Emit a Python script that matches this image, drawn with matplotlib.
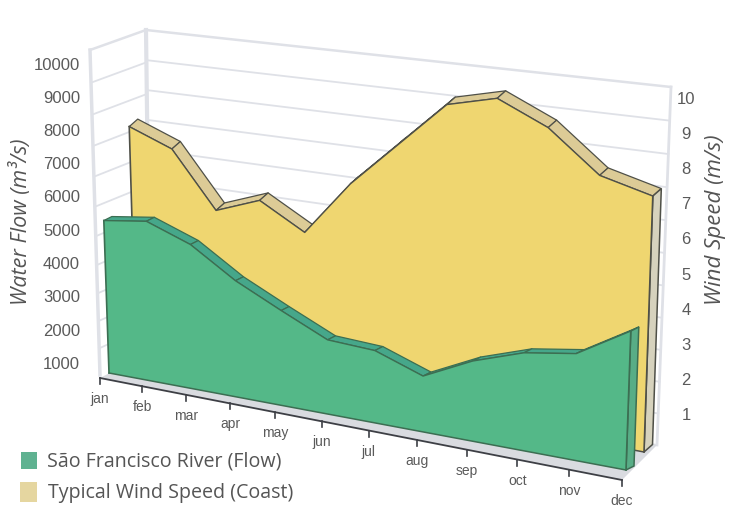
import numpy as np
import matplotlib
matplotlib.use("Agg")
import matplotlib.pyplot as plt
import matplotlib.transforms as mtransforms
from matplotlib.patches import Rectangle

months = ['jan','feb','mar','apr','may','jun','jul','aug','sep','oct','nov','dec']
flow = [4810,4980,4470,3580,2900,2250,2170,1660,2350,2830,3050,3920]
wind = [7.27,6.75,5.05,5.55,4.78,6.42,7.73,9.04,9.37,8.72,7.58,7.2]
flow_ticks = [1000,2000,3000,4000,5000,6000,7000,8000,9000,10000]
wind_ticks = [1,2,3,4,5,6,7,8,9,10]
idx = np.arange(12)


class Plane(mtransforms.Transform):
    # perspective plane, (month, value) -> pixel, fixed by its four corners
    input_dims = 2
    output_dims = 2
    is_separable = False

    def __init__(self, vmax, c00, c10, c01, c11):
        super().__init__()
        src = [(0,0),(11,0),(0,vmax),(11,vmax)]
        dst = [c00,c10,c01,c11]
        A = []; b = []
        for (u,v),(x,y) in zip(src,dst):
            A.append([u,v,1,0,0,0,-u*x,-v*x]); b.append(x)
            A.append([0,0,0,u,v,1,-u*y,-v*y]); b.append(y)
        h = np.linalg.solve(np.array(A,float),np.array(b,float))
        self.H = np.append(h,1).reshape(3,3)

    def transform_non_affine(self, values):
        p = np.c_[values,np.ones(len(values))] @ self.H.T
        return p[:,:2]/p[:,2:]


def shifted(vmax, corners, dx, dy):
    return Plane(vmax, *[(x+dx,y+dy) for x,y in corners])


flow_c = [(109,373),(626,470),(98,49),(638.6,105)]
wind_c = [(136,356),(644,452),(126.6,37),(656.4,92)]
back_wall = Plane(11,(150,352),(657,445),(146,30),(671,87))
left_wall = Plane(11,(100,375),(150,352),(90,50),(146,30))
axis_line = Plane(1,(100,378),(622,480),(100,278),(622,367))

flow_front = Plane(10000,*flow_c)
flow_back = shifted(10000,flow_c,8,-4)
wind_front = Plane(10,*wind_c)
wind_back = shifted(10,wind_c,8.5,-7.5)

fig = plt.figure(figsize=(7.32,5.29),dpi=100)
ax = fig.add_axes([0,0,1,1])
ax.set_xlim(0,732); ax.set_ylim(529,0)
ax.axis('off')
ax.autoscale(False)
data = ax.transData

grid_col = '#dfe1e7'
# walls and grid
for lev in range(0,12):
    w = 1.8 if lev==11 else 1.3
    ax.plot([0,11],[lev,lev],transform=back_wall+data,color=grid_col,lw=w,zorder=1)
    if lev>0:
        ax.plot([0,11],[lev,lev],transform=left_wall+data,color=grid_col,lw=w,zorder=1)
ax.plot([0,0],[0,11],transform=back_wall+data,color=grid_col,lw=3,zorder=1)
ax.plot([11,11],[0,11],transform=back_wall+data,color=grid_col,lw=2,zorder=1)
ax.plot([0,0],[0,11],transform=left_wall+data,color=grid_col,lw=2.5,zorder=1)

# floor
fl = np.vstack([axis_line.transform(np.array([[0,0],[11,0]])),
                back_wall.transform(np.array([[11,0],[0,0]]))])
ax.fill(fl[:,0],fl[:,1],color='#d9dbe0',lw=0,zorder=1.5)


def slab(front, back, vals, face, side, edge, right_side, z):
    vals = np.asarray(vals,float)
    f = front.transform(np.c_[idx,vals]); b = back.transform(np.c_[idx,vals])
    f0 = front.transform(np.c_[idx,0*vals]); b0 = back.transform(np.c_[idx,0*vals])
    # top ribbon
    for i in range(11):
        q = np.array([f[i],f[i+1],b[i+1],b[i]])
        ax.fill(q[:,0],q[:,1],facecolor=side,edgecolor=edge,lw=0.9,joinstyle='round',zorder=z)
    # end cap at dec
    q = np.array([f[11],f0[11],b0[11],b[11]])
    ax.fill(q[:,0],q[:,1],facecolor=right_side,edgecolor=edge,lw=1.1,zorder=z)
    # front face
    ax.fill(np.r_[idx,11,0],np.r_[vals,0,0],transform=front+data,facecolor=face,edgecolor='none',zorder=z+0.1)
    ax.plot(idx,vals,transform=front+data,color=edge,lw=1.0,zorder=z+0.2)
    ax.plot([0,0],[0,vals[0]],transform=front+data,color=edge,lw=1.2,zorder=z+0.2)
    ax.plot([11,11],[0,vals[11]],transform=front+data,color=edge,lw=1.2,zorder=z+0.2)
    ax.plot([0,11],[0,0],transform=front+data,color=edge,lw=1.1,zorder=z+0.2)


slab(wind_front,wind_back,wind,'#efd670','#dccb96','#4f5048','#d6d2bd',2)
slab(flow_front,flow_back,flow,'#54b888','#46a78a','#3c6e52','#58ad86',3)

# x axis with ticks
ax.plot([0,11],[0,0],transform=axis_line+data,color='#3d3f45',lw=1.3,zorder=4)
tick_px = axis_line.transform(np.c_[idx,0*idx])
for i,m in enumerate(months):
    ax.plot([tick_px[i,0]]*2,[tick_px[i,1],tick_px[i,1]+6],color='#3d3f45',lw=1.2,zorder=4)
    ax.text(tick_px[i,0],tick_px[i,1]+21,m,ha='center',va='center',fontsize=10,
            family='Liberation Sans',color='#5a5a5a')

# value labels
for v in flow_ticks:
    ax.text(80,397.5-v*0.03325,str(v),ha='right',va='center',fontsize=12,family='Liberation Sans',color='#5a5a5a')
for v in wind_ticks:
    ax.text(686,451-v*35.2,str(v),ha='center',va='center',fontsize=12,family='Liberation Sans',color='#5a5a5a')

ax.text(21,222,'Water Flow (m³/s)',rotation=90,ha='center',va='center',fontsize=15.5,
        style='italic',family='Open Sans',color='#555555')
ax.text(715,220,'Wind Speed (m/s)',rotation=90,ha='center',va='center',fontsize=16,
        style='italic',family='Open Sans',color='#555555')

# legend
ax.add_patch(Rectangle((21,452),16,17,facecolor='#5fb291',edgecolor='none'))
ax.add_patch(Rectangle((20,482),17,20,facecolor='#e5d6a0',edgecolor='none'))
ax.text(47,461,'São Francisco River (Flow)',ha='left',va='center',fontsize=14.1,family='Open Sans',color='#555555')
ax.text(48,493,'Typical Wind Speed (Coast)',ha='left',va='center',fontsize=14.1,family='Open Sans',color='#555555')

fig.savefig('out.png',dpi=100)
